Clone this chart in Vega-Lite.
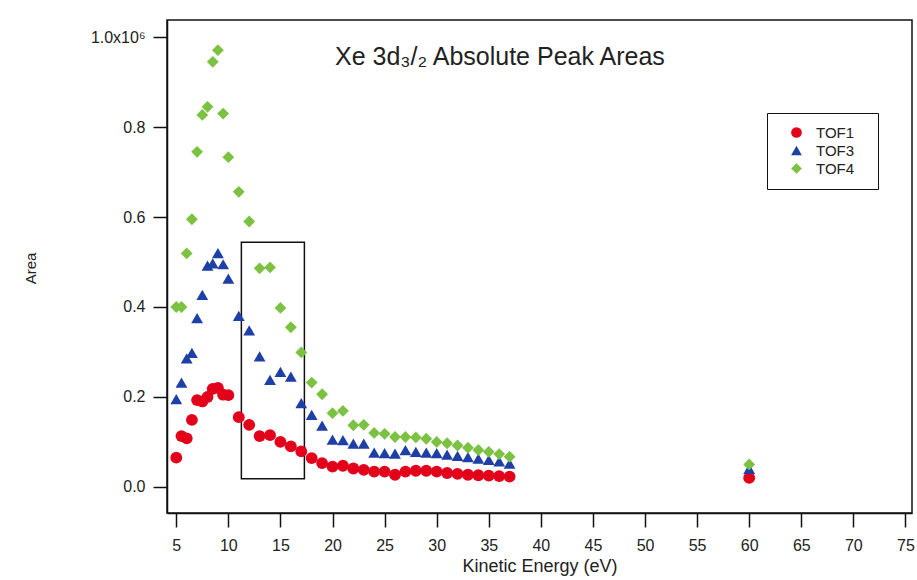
{
  "$schema": "https://vega.github.io/schema/vega-lite/v6.json",
  "width": 745,
  "height": 493,
  "autosize": {"type": "none"},
  "padding": {"left": 167, "top": 20, "right": 5, "bottom": 67},
  "background": "white",
  "config": {"font": "Liberation Sans", "view": {"stroke": "#111", "strokeWidth": 1.5}},
  "title": {"text": "Xe 3d₃/₂ Absolute Peak Areas", "anchor": "start", "frame": "group", "dx": 168, "dy": 54, "fontSize": 25, "fontWeight": "normal", "color": "#222", "font": "Liberation Sans"},
  "datasets": {
    "box": [{"energy": 11.25, "energy_end": 17.3, "area": 18000, "area_end": 544000}],
    "peaks": [
      {"energy": 5, "detector": "TOF1", "area": 65000},
      {"energy": 5.5, "detector": "TOF1", "area": 113000},
      {"energy": 6, "detector": "TOF1", "area": 108000},
      {"energy": 6.5, "detector": "TOF1", "area": 149000},
      {"energy": 7, "detector": "TOF1", "area": 193000},
      {"energy": 7.5, "detector": "TOF1", "area": 190000},
      {"energy": 8, "detector": "TOF1", "area": 200000},
      {"energy": 8.5, "detector": "TOF1", "area": 218000},
      {"energy": 9, "detector": "TOF1", "area": 220000},
      {"energy": 9.5, "detector": "TOF1", "area": 205000},
      {"energy": 10, "detector": "TOF1", "area": 204000},
      {"energy": 11, "detector": "TOF1", "area": 155000},
      {"energy": 12, "detector": "TOF1", "area": 138000},
      {"energy": 13, "detector": "TOF1", "area": 113000},
      {"energy": 14, "detector": "TOF1", "area": 115000},
      {"energy": 15, "detector": "TOF1", "area": 100000},
      {"energy": 16, "detector": "TOF1", "area": 90000},
      {"energy": 17, "detector": "TOF1", "area": 79000},
      {"energy": 18, "detector": "TOF1", "area": 64000},
      {"energy": 19, "detector": "TOF1", "area": 53000},
      {"energy": 20, "detector": "TOF1", "area": 45000},
      {"energy": 21, "detector": "TOF1", "area": 47000},
      {"energy": 22, "detector": "TOF1", "area": 41000},
      {"energy": 23, "detector": "TOF1", "area": 38000},
      {"energy": 24, "detector": "TOF1", "area": 34000},
      {"energy": 25, "detector": "TOF1", "area": 34000},
      {"energy": 26, "detector": "TOF1", "area": 27000},
      {"energy": 27, "detector": "TOF1", "area": 34000},
      {"energy": 28, "detector": "TOF1", "area": 36000},
      {"energy": 29, "detector": "TOF1", "area": 36000},
      {"energy": 30, "detector": "TOF1", "area": 34000},
      {"energy": 31, "detector": "TOF1", "area": 31000},
      {"energy": 32, "detector": "TOF1", "area": 29000},
      {"energy": 33, "detector": "TOF1", "area": 27000},
      {"energy": 34, "detector": "TOF1", "area": 26000},
      {"energy": 35, "detector": "TOF1", "area": 25000},
      {"energy": 36, "detector": "TOF1", "area": 24000},
      {"energy": 37, "detector": "TOF1", "area": 23000},
      {"energy": 60, "detector": "TOF1", "area": 20000},
      {"energy": 5, "detector": "TOF3", "area": 195000},
      {"energy": 5.5, "detector": "TOF3", "area": 232000},
      {"energy": 6, "detector": "TOF3", "area": 286000},
      {"energy": 6.5, "detector": "TOF3", "area": 298000},
      {"energy": 7, "detector": "TOF3", "area": 375000},
      {"energy": 7.5, "detector": "TOF3", "area": 427000},
      {"energy": 8, "detector": "TOF3", "area": 492000},
      {"energy": 8.5, "detector": "TOF3", "area": 497000},
      {"energy": 9, "detector": "TOF3", "area": 520000},
      {"energy": 9.5, "detector": "TOF3", "area": 495000},
      {"energy": 10, "detector": "TOF3", "area": 463000},
      {"energy": 11, "detector": "TOF3", "area": 380000},
      {"energy": 12, "detector": "TOF3", "area": 348000},
      {"energy": 13, "detector": "TOF3", "area": 290000},
      {"energy": 14, "detector": "TOF3", "area": 238000},
      {"energy": 15, "detector": "TOF3", "area": 256000},
      {"energy": 16, "detector": "TOF3", "area": 245000},
      {"energy": 17, "detector": "TOF3", "area": 186000},
      {"energy": 18, "detector": "TOF3", "area": 160000},
      {"energy": 19, "detector": "TOF3", "area": 136000},
      {"energy": 20, "detector": "TOF3", "area": 105000},
      {"energy": 21, "detector": "TOF3", "area": 104000},
      {"energy": 22, "detector": "TOF3", "area": 96000},
      {"energy": 23, "detector": "TOF3", "area": 96000},
      {"energy": 24, "detector": "TOF3", "area": 76000},
      {"energy": 25, "detector": "TOF3", "area": 75000},
      {"energy": 26, "detector": "TOF3", "area": 74000},
      {"energy": 27, "detector": "TOF3", "area": 82000},
      {"energy": 28, "detector": "TOF3", "area": 78000},
      {"energy": 29, "detector": "TOF3", "area": 76000},
      {"energy": 30, "detector": "TOF3", "area": 75000},
      {"energy": 31, "detector": "TOF3", "area": 72000},
      {"energy": 32, "detector": "TOF3", "area": 69000},
      {"energy": 33, "detector": "TOF3", "area": 66000},
      {"energy": 34, "detector": "TOF3", "area": 63000},
      {"energy": 35, "detector": "TOF3", "area": 60000},
      {"energy": 36, "detector": "TOF3", "area": 57000},
      {"energy": 37, "detector": "TOF3", "area": 52000},
      {"energy": 60, "detector": "TOF3", "area": 40000},
      {"energy": 5, "detector": "TOF4", "area": 400000},
      {"energy": 5.5, "detector": "TOF4", "area": 400000},
      {"energy": 6, "detector": "TOF4", "area": 519000},
      {"energy": 6.5, "detector": "TOF4", "area": 595000},
      {"energy": 7, "detector": "TOF4", "area": 745000},
      {"energy": 7.5, "detector": "TOF4", "area": 827000},
      {"energy": 8, "detector": "TOF4", "area": 845000},
      {"energy": 8.5, "detector": "TOF4", "area": 945000},
      {"energy": 9, "detector": "TOF4", "area": 971000},
      {"energy": 9.5, "detector": "TOF4", "area": 830000},
      {"energy": 10, "detector": "TOF4", "area": 733000},
      {"energy": 11, "detector": "TOF4", "area": 656000},
      {"energy": 12, "detector": "TOF4", "area": 590000},
      {"energy": 13, "detector": "TOF4", "area": 486000},
      {"energy": 14, "detector": "TOF4", "area": 488000},
      {"energy": 15, "detector": "TOF4", "area": 398000},
      {"energy": 16, "detector": "TOF4", "area": 355000},
      {"energy": 17, "detector": "TOF4", "area": 299000},
      {"energy": 18, "detector": "TOF4", "area": 232000},
      {"energy": 19, "detector": "TOF4", "area": 206000},
      {"energy": 20, "detector": "TOF4", "area": 164000},
      {"energy": 21, "detector": "TOF4", "area": 169000},
      {"energy": 22, "detector": "TOF4", "area": 137000},
      {"energy": 23, "detector": "TOF4", "area": 138000},
      {"energy": 24, "detector": "TOF4", "area": 120000},
      {"energy": 25, "detector": "TOF4", "area": 118000},
      {"energy": 26, "detector": "TOF4", "area": 111000},
      {"energy": 27, "detector": "TOF4", "area": 111000},
      {"energy": 28, "detector": "TOF4", "area": 110000},
      {"energy": 29, "detector": "TOF4", "area": 107000},
      {"energy": 30, "detector": "TOF4", "area": 100000},
      {"energy": 31, "detector": "TOF4", "area": 97000},
      {"energy": 32, "detector": "TOF4", "area": 92000},
      {"energy": 33, "detector": "TOF4", "area": 87000},
      {"energy": 34, "detector": "TOF4", "area": 82000},
      {"energy": 35, "detector": "TOF4", "area": 78000},
      {"energy": 36, "detector": "TOF4", "area": 73000},
      {"energy": 37, "detector": "TOF4", "area": 67000},
      {"energy": 60, "detector": "TOF4", "area": 50000}
    ]
  },
  "encoding": {
    "x": {
      "field": "energy", "type": "quantitative",
      "scale": {"domain": [4.11, 75.63], "nice": false, "zero": false},
      "axis": {"title": "Kinetic Energy (eV)", "values": [5, 10, 15, 20, 25, 30, 35, 40, 45, 50, 55, 60, 65, 70, 75], "grid": false, "tickSize": 14, "tickWidth": 1.5, "tickColor": "#111", "domainColor": "#111", "domainWidth": 1.5, "labelFontSize": 16, "labelPadding": 10, "labelColor": "#222", "labelFlush": false, "titleFontSize": 18, "titleFontWeight": "normal", "titleColor": "#222", "titlePadding": 4}
    },
    "y": {
      "field": "area", "type": "quantitative",
      "scale": {"domain": [-58000, 1038000], "nice": false, "zero": false},
      "axis": {"title": "Area", "values": [0, 200000, 400000, 600000, 800000, 1000000], "labelExpr": "datum.value >= 1000000 ? '1.0x10⁶' : format(datum.value / 1000000, '.1f')", "grid": false, "tickSize": 14, "tickWidth": 1.5, "tickColor": "#111", "domainColor": "#111", "domainWidth": 1.5, "labelFontSize": 16, "labelPadding": 8, "labelColor": "#222", "titleFontSize": 15, "titleFontWeight": "normal", "titleColor": "#222", "titleX": -137, "titleY": 248, "titleBaseline": "middle", "titleAngle": -90}
    }
  },
  "layer": [
    {
      "data": {"name": "box"},
      "mark": {"type": "rect", "fill": null, "stroke": "#111", "strokeWidth": 1.5},
      "encoding": {
        "x2": {"field": "energy_end"},
        "y2": {"field": "area_end"}
      }
    },
    {
      "data": {"name": "peaks"},
      "mark": {"type": "point", "filled": true, "opacity": 1, "strokeWidth": 0, "size": 140},
      "encoding": {
        "color": {
          "field": "detector", "type": "nominal",
          "scale": {"domain": ["TOF1", "TOF3", "TOF4"], "range": ["#e3001b", "#1e3fa6", "#7cc242"]},
          "legend": {"title": null, "orient": "none", "legendX": 600, "legendY": 93, "strokeColor": "#111", "fillColor": "white", "padding": 12, "labelFontSize": 15, "labelColor": "#222", "symbolSize": 115, "symbolOffset": 10, "labelOffset": 12, "rowPadding": 2, "labelExpr": "datum.label + '\u2800'"}
        },
        "shape": {
          "field": "detector", "type": "nominal",
          "scale": {"domain": ["TOF1", "TOF3", "TOF4"], "range": ["circle", "triangle-up", "diamond"]},
          "legend": {"title": null}
        }
      }
    }
  ]
}
